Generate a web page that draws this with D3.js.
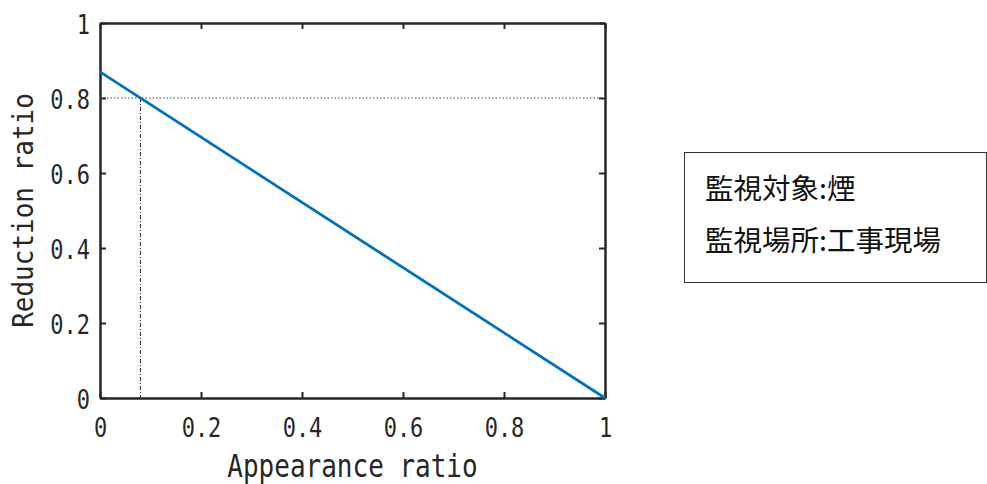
<!DOCTYPE html>
<html>
<head>
<meta charset="utf-8">
<script src="https://cdn.jsdelivr.net/npm/d3@7"></script>
<style>
body { margin: 0; background: #fff; }
svg text { fill: #262626; }
</style>
</head>
<body>
<svg id="chart" width="987" height="484"></svg>
<script>
// line data (appearance ratio vs reduction ratio)
let lineX = [0, 1];
let lineY = [0.8696, 0];
// marker point
let markX = 0.08;
let markY = 0.8;
let ticks = [0, 0.2, 0.4, 0.6, 0.8, 1];
let tickLabels = ['0', '0.2', '0.4', '0.6', '0.8', '1'];
let legendLines = ['監視対象:煙', '監視場所:工事現場'];

let svg = d3.select('#chart');
let pLeft = 100, pRight = 605, pTop = 23, pBottom = 398;
let mono = "'DejaVu Sans Mono', monospace";

let x = d3.scaleLinear().domain([0, 1]).range([pLeft, pRight]);
let y = d3.scaleLinear().domain([0, 1]).range([pBottom, pTop]);

let fmt = d => tickLabels[ticks.indexOf(d)];

// axes with inward ticks on all sides
let ax = svg.append('g');
let xb = ax.append('g').attr('transform', 'translate(0,' + pBottom + ')')
	.call(d3.axisBottom(x).tickValues(ticks).tickFormat(fmt).tickSizeInner(-6).tickSizeOuter(0));
ax.append('g').attr('transform', 'translate(0,' + pTop + ')')
	.call(d3.axisTop(x).tickValues(ticks).tickFormat('').tickSizeInner(-6).tickSizeOuter(0));
let yl = ax.append('g').attr('transform', 'translate(' + pLeft + ',0)')
	.call(d3.axisLeft(y).tickValues(ticks).tickFormat(fmt).tickSizeInner(-6).tickSizeOuter(0));
ax.append('g').attr('transform', 'translate(' + pRight + ',0)')
	.call(d3.axisRight(y).tickValues(ticks).tickFormat('').tickSizeInner(-6).tickSizeOuter(0));
ax.selectAll('.domain').attr('stroke', '#262626').attr('stroke-width', 2.5);
ax.selectAll('.tick line').attr('stroke', '#262626').attr('stroke-width', 2);
ax.selectAll('.tick text').style('font-family', mono).style('font-size', '22px').style('fill', '#262626')
	.attr('x', 0).attr('y', 0).attr('dy', 0);
// stretch tick labels vertically (reference font is narrow and tall)
xb.selectAll('.tick text').attr('transform', 'translate(0,39) scale(1,1.2)');
yl.selectAll('.tick text').attr('transform', 'translate(-10,10) scale(1,1.2)');

// marker guide lines
svg.append('line')
	.attr('x1', x(0)).attr('x2', x(1)).attr('y1', y(markY)).attr('y2', y(markY))
	.attr('stroke', '#444').attr('stroke-width', 1).attr('stroke-dasharray', '1.5,2');
svg.append('line')
	.attr('x1', x(markX)).attr('x2', x(markX)).attr('y1', y(markY)).attr('y2', y(0))
	.attr('stroke', '#222').attr('stroke-width', 1).attr('stroke-dasharray', '4,2,1,2');

// main line
let pts = lineX.map((d, i) => [d, lineY[i]]);
svg.append('path')
	.attr('d', d3.line().x(d => x(d[0])).y(d => y(d[1]))(pts))
	.attr('fill', 'none').attr('stroke', '#0072BD').attr('stroke-width', 2.8);

// axis labels
svg.append('text').attr('transform', 'translate(' + (pLeft + pRight) / 2 + ',477) scale(1,1.2)').attr('text-anchor', 'middle')
	.style('font-family', mono).style('font-size', '26px').text('Appearance ratio');
svg.append('text').attr('transform', 'translate(33,' + (pTop + pBottom) / 2 + ') rotate(-90) scale(1,1.08)').attr('text-anchor', 'middle')
	.style('font-family', mono).style('font-size', '26px').text('Reduction ratio');

// legend box
svg.append('rect').attr('x', 684.5).attr('y', 152.5).attr('width', 302).attr('height', 130)
	.attr('fill', '#fff').attr('stroke', '#333').attr('stroke-width', 1);
svg.selectAll('text.leg').data(legendLines).join('text').attr('class', 'leg')
	.attr('x', 705).attr('y', (d, i) => 199 + i * 52)
	.style('font-family', "'Noto Sans CJK JP'").style('font-size', '28.5px').style('fill', '#111')
	.text(d => d);
</script>
</body>
</html>
